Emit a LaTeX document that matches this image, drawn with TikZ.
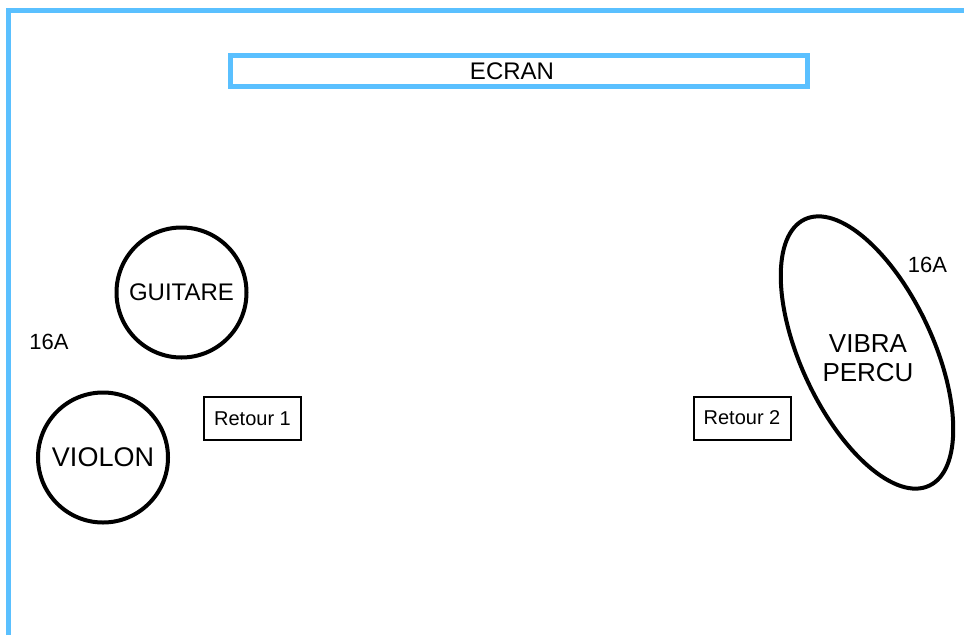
\documentclass[tikz,border=0pt]{standalone}
\usepackage{fontspec}
\setmainfont{Liberation Sans}

\def\vibraradius{(0,0) ellipse [x radius=147pt, y radius=66pt]}
\definecolor{stage blue}{RGB}{90,192,255}
\tikzset{
  wall/.style={draw=stage blue, line width=5pt, line join=miter},
  screen/.style={draw=stage blue, line width=5pt, minimum width=577pt, minimum height=31pt, inner sep=0pt},
  instrument/.style={circle, draw, line width=4pt, minimum size=130pt, inner sep=0pt},
  outline/.style={draw, line width=4pt}
  }
\tikzstyle{retour}=[draw, line width=2pt, minimum width=97pt, minimum height=43pt, inner sep=0pt, font=\fontsize{20}{24}\selectfont]
\tikzstyle{plug}=[font=\fontsize{22}{26}\selectfont]

\begin{document}
\begin{tikzpicture}[x=1pt, y=-1pt]
   \useasboundingbox (0,0) rectangle (964,635);
   \draw[wall] (8.5,635) -- (8.5,10.5) -- (964,10.5);

   \node[screen] (ecran) at (519,71) {};
   \node[font=\fontsize{24}{28}\selectfont] (ecrantext) at (512,71) {ECRAN};

   \node[instrument, font=\fontsize{24}{28}\selectfont] (guitare) at (181.5,292.5) {GUITARE};
   \node[instrument, font=\fontsize{27}{32}\selectfont] (violon) at (103,457.5) {VIOLON};

   \node[retour] (retour1) at (252.5,418.5) {Retour 1};
   \node[retour] (retour2) at (742,418) {Retour 2};

   % vibra is drawn as a tilted ellipse, text kept upright
   \draw[outline, shift={(867,352.5)}, rotate=-65] \vibraradius;
   \node[align=center, font=\fontsize{26}{29}\selectfont] (vibra) at (868,358) {VIBRA\\PERCU};

   \node[plug] (plug1) at (49,342) {16A};
   \node[plug] (plug2) at (927.5,264.5) {16A};
\end{tikzpicture}
\end{document}
